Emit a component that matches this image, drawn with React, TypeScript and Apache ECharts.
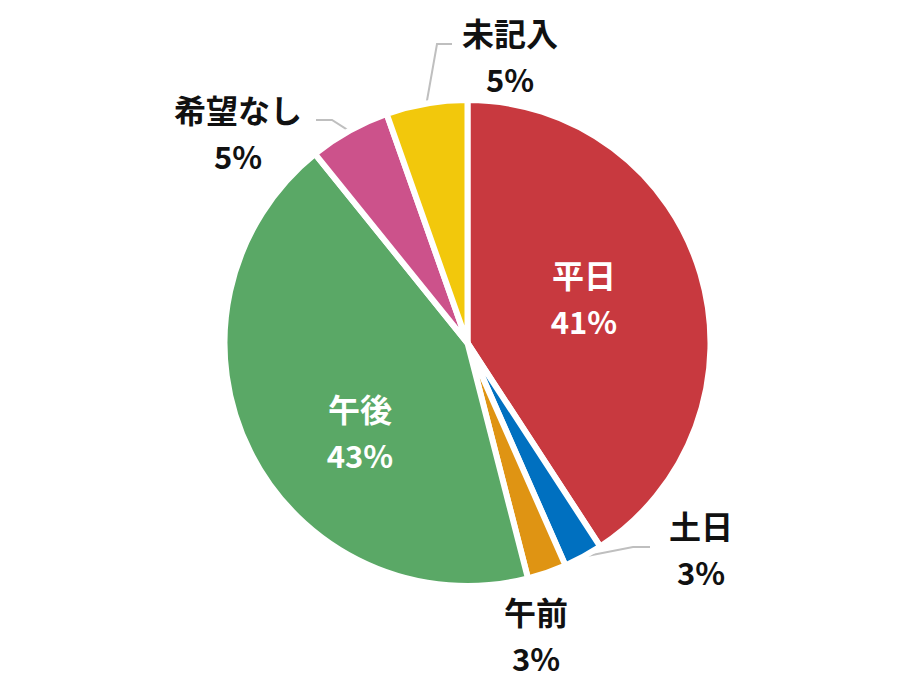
import { useEffect, useRef } from 'react';
import * as echarts from 'echarts';

// 希望する時間帯の内訳（％）
const categories = ['平日', '土日', '午前', '午後', '希望なし', '未記入'];
const shares = [40.8, 2.6, 2.6, 43.2, 5.4, 5.4];
const shownPct = [41, 3, 3, 43, 5, 5];
const colors = ['#c8393f', '#0070c0', '#df9413', '#5aa866', '#cc528b', '#f2c80c'];
const isInside = [true, false, false, true, false, false];

// ラベル中心と引き出し線の折れ点（px）
const labelPos = [
  [584, 297],
  [701, 548],
  [536, 634],
  [360, 431],
  [238, 132],
  [510, 55],
];
const leaderBend: (number[][] | null)[] = [
  null,
  [[633, 547], [650, 547]],
  null,
  null,
  [[332, 120], [316, 120]],
  [[437, 44], [452, 44]],
];

const CJK = '"Noto Sans CJK JP", "Noto Sans", sans-serif';
const NUM = '"Noto Sans CJK JP", "Noto Sans", sans-serif';

export default function App() {
  const chartRef = useRef<HTMLDivElement>(null);

  useEffect(() => {
    if (!chartRef.current) return;
    const chart = echarts.init(chartRef.current, undefined, { renderer: 'svg' });

    const data = categories.map((name, i) => ({
      name,
      value: shares[i],
      itemStyle: { color: colors[i] },
      label: { position: isInside[i] ? 'inside' : 'outside' },
      labelLine: { show: leaderBend[i] !== null },
    }));

    chart.setOption({
      animation: false,
      backgroundColor: '#ffffff',
      series: [
        {
          type: 'pie',
          center: [467.5, 343],
          radius: 243,
          startAngle: 90,
          clockwise: true,
          avoidLabelOverlap: false,
          data,
          itemStyle: { borderColor: '#ffffff', borderWidth: 6 },
          label: {
            show: true,
            formatter: (p: any) => {
              const s = isInside[p.dataIndex] ? 'w' : 'k';
              return `{n${s}|${p.name}}\n{p${s}|${shownPct[p.dataIndex]}%}`;
            },
            rich: {
              nk: { fontFamily: CJK, fontWeight: 'bold', fontSize: 32, color: '#111111', lineHeight: 47 },
              pk: { fontFamily: NUM, fontWeight: 'bold', fontSize: 31, color: '#111111', lineHeight: 47 },
              nw: { fontFamily: CJK, fontWeight: 'bold', fontSize: 32, color: '#ffffff', lineHeight: 47 },
              pw: { fontFamily: NUM, fontWeight: 'bold', fontSize: 31, color: '#ffffff', lineHeight: 47 },
            },
          },
          labelLine: {
            lineStyle: { color: '#bfbfbf', width: 2 },
          },
          labelLayout: (params: any) => {
            const i = params.dataIndex;
            const out: any = {
              x: labelPos[i][0],
              y: labelPos[i][1],
              align: 'center',
              verticalAlign: 'middle',
            };
            const bend = leaderBend[i];
            if (bend && params.labelLinePoints) {
              out.labelLinePoints = [params.labelLinePoints[0], ...bend];
            }
            return out;
          },
        },
      ],
    });

    return () => {
      chart.dispose();
    };
  }, []);

  return (
    <div
      ref={chartRef}
      style={{ position: 'fixed', left: 0, top: 0, width: '921px', height: '690px' }}
    />
  );
}
